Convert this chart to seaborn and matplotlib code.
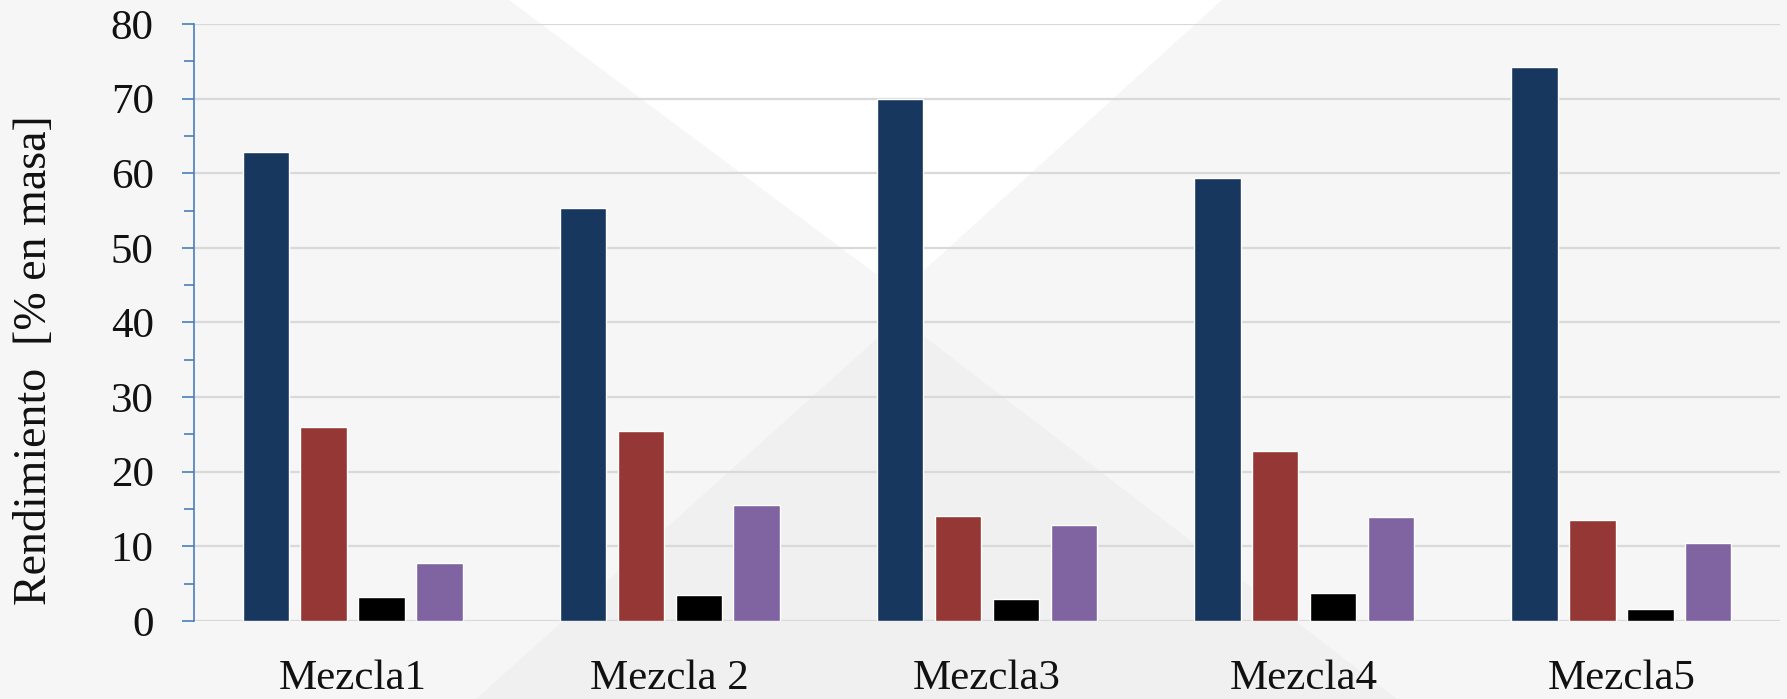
import matplotlib
matplotlib.use("Agg")
import matplotlib.pyplot as plt
from matplotlib.patches import Polygon
from matplotlib.ticker import MultipleLocator
import seaborn as sns
import pandas as pd

# ---- data ----
mezclas = ["Mezcla1", "Mezcla 2", "Mezcla3", "Mezcla4", "Mezcla5"]
series = ["Serie 1", "Serie 2", "Serie 3", "Serie 4"]
serie1 = [62.9, 55.4, 70.0, 59.4, 74.3]
serie2 = [26.0, 25.5, 14.1, 22.8, 13.6]
serie3 = [3.2, 3.5, 3.0, 3.8, 1.6]
serie4 = [7.8, 15.6, 12.9, 14.0, 10.5]
colors = ["#17375E", "#953735", "#000000", "#8064A2"]
y_ticks = [0, 10, 20, 30, 40, 50, 60, 70, 80]
y_label = "Rendimiento  [% en masa]"

rows = []
for s, vals in zip(series, [serie1, serie2, serie3, serie4]):
    for m, v in zip(mezclas, vals):
        rows.append({"Mezcla": m, "Serie": s, "Rendimiento": v})
df = pd.DataFrame(rows)

sns.set_theme(style="white")
plt.rcParams["font.family"] = ["Liberation Serif", "DejaVu Serif"]

W, H = 1787, 699
fig = plt.figure(figsize=(W / 100, H / 100), dpi=100)
fig.patch.set_facecolor("#f6f6f6")

# decorative background (watermark-like triangles)
bg = fig.add_axes([0, 0, 1, 1], zorder=-10)
bg.set_xlim(0, W)
bg.set_ylim(H, 0)
bg.axis("off")
bg.add_patch(Polygon([(509, 0), (1222, 0), (900, 292)], closed=True,
                     facecolor="#ffffff", edgecolor="none"))
bg.add_patch(Polygon([(900, 318), (476, H), (1397, H)], closed=True,
                     facecolor="#f0f0f0", edgecolor="none"))

ax = fig.add_axes([194 / W, 1 - 621 / H, (1780 - 194) / W, (621 - 24) / H])
ax.set_facecolor("none")

sns.barplot(data=df, x="Mezcla", y="Rendimiento", hue="Serie",
            palette=colors, width=0.73, gap=0.2, saturation=1,
            legend=False, ax=ax, zorder=3)

ax.set_ylim(0, 80)
ax.set_yticks(y_ticks)
ax.yaxis.set_minor_locator(MultipleLocator(5))
ax.set_xlim(-0.5, len(mezclas) - 0.5)

ax.grid(axis="y", which="major", color="#d9d9d9", linewidth=1.6, zorder=0)
ax.set_axisbelow(True)
for side in ["top", "right", "bottom"]:
    ax.spines[side].set_visible(False)
ax.spines["left"].set_color("#4a7ebb")
ax.spines["left"].set_linewidth(1.2)

ax.tick_params(axis="y", which="major", length=9, width=1.2, color="#4a7ebb",
               labelsize=31, pad=20, left=True, labelcolor="#111111")
ax.tick_params(axis="y", which="minor", length=7, width=1.2, color="#4a7ebb",
               left=True)
ax.tick_params(axis="x", length=0, labelsize=31, pad=28, labelcolor="#111111")

ax.set_xlabel("")
ax.set_ylabel(y_label, fontsize=33, color="#111111")
ax.yaxis.set_label_coords((56 - 194) / (1780 - 194), (621 - 360) / (621 - 24))

fig.savefig("out.png", dpi=100, facecolor=fig.get_facecolor())
